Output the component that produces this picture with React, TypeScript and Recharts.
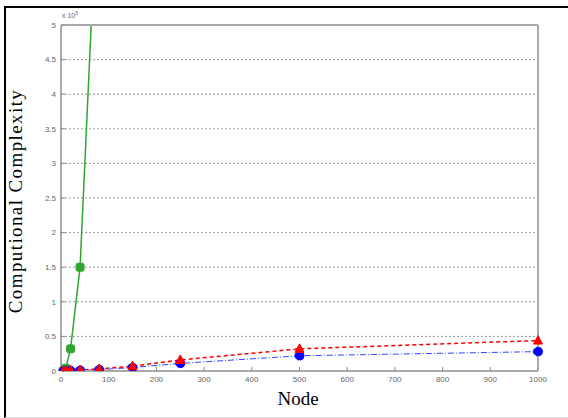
import React from 'react';
import { LineChart, Line, XAxis, YAxis, CartesianGrid, Label } from 'recharts';

// node counts and complexity (in units of 1e5)
const nodes = [5, 10, 20, 40, 80, 150, 250, 500, 1000];
const greenVals = [0.005, 0.04, 0.32, 1.5, 7.5, null, null, null, null];
const redVals = [0.0, 0.005, 0.01, 0.015, 0.03, 0.07, 0.16, 0.32, 0.44];
const blueVals = [0.0, 0.003, 0.005, 0.01, 0.02, 0.05, 0.11, 0.22, 0.28];
const xTicks = [0, 100, 200, 300, 400, 500, 600, 700, 800, 900, 1000];
const yTicks = [0, 0.5, 1, 1.5, 2, 2.5, 3, 3.5, 4, 4.5, 5];

const data = nodes.map((n, i) => ({
  node: n,
  green: greenVals[i],
  red: redVals[i],
  blue: blueVals[i],
}));

const tickStyle = { fontSize: 8, fill: '#666', fontFamily: 'Arial, sans-serif' };

const Triangle = (props: any) => {
  const { cx, cy, key } = props;
  if (cx == null || cy == null) return null;
  return (
    <polygon
      key={key}
      points={`${cx},${cy - 5} ${cx - 4.5},${cy + 3.5} ${cx + 4.5},${cy + 3.5}`}
      fill="#ff0000"
      stroke="#ff0000"
    />
  );
};

const Square = (props: any) => {
  const { cx, cy, key } = props;
  if (cx == null || cy == null) return null;
  return <rect key={key} x={cx - 4} y={cy - 4} width={8} height={8} rx={2} fill="#2fa52f" stroke="#2fa52f" />;
};

const App: React.FC = () => {
  return (
    <div style={{ position: 'absolute', left: 0, top: 0, width: 568, height: 418, background: '#fff' }}>
      <div style={{ position: 'absolute', left: 4, top: 6, width: 564, height: 409, borderTop: '2px solid #000', borderLeft: '2px solid #000', borderBottom: '1px solid #ddd' }} />
      <div style={{ position: 'absolute', left: 0, top: 0 }}>
        <LineChart width={568} height={418} data={data} margin={{ top: 24, right: 29, bottom: 0, left: 0 }}>
          <CartesianGrid xAxisId="b" yAxisId="l" vertical={false} horizontalValues={yTicks.slice(1, -1)} stroke="#999" strokeDasharray="2 2" />
          <XAxis
            dataKey="node"
            type="number"
            domain={[0, 1000]}
            ticks={xTicks}
            xAxisId="b"
            tick={tickStyle}
            tickSize={-4}
            tickMargin={9}
            axisLine={{ stroke: '#aaa', strokeWidth: 2 }}
            tickLine={{ stroke: '#888' }}
            height={47}
          >
            <Label
              content={() => (
                <text x={298} y={405} textAnchor="middle" fontFamily="'Liberation Serif', serif" fontSize={19} fill="#000">
                  Node
                </text>
              )}
            />
          </XAxis>
          <XAxis
            dataKey="node"
            type="number"
            domain={[0, 1000]}
            ticks={xTicks}
            xAxisId="t"
            orientation="top"
            tick={false}
            tickSize={-4}
            axisLine={{ stroke: '#aaa', strokeWidth: 2 }}
            tickLine={{ stroke: '#888' }}
            height={1}
          />
          <YAxis
            yAxisId="l"
            type="number"
            domain={[0, 5]}
            ticks={yTicks}
            allowDataOverflow
            width={61}
            tick={tickStyle}
            tickSize={-4}
            tickMargin={9}
            axisLine={{ stroke: '#aaa', strokeWidth: 2 }}
            tickLine={{ stroke: '#888' }}
          >
            <Label
              content={() => (
                <g>
                  <text x={22} y={201} transform="rotate(-90 22 201)" textAnchor="middle" fontFamily="'Liberation Serif', serif" fontSize={19} letterSpacing={1.4} fill="#000">
                    Computional Complexity
                  </text>
                  <text x={62} y={18} fontFamily="Arial, sans-serif" fontSize={7} fill="#666">
                    x 10<tspan dy={-3} fontSize={5}>5</tspan>
                  </text>
                </g>
              )}
            />
          </YAxis>
          <YAxis
            yAxisId="r"
            orientation="right"
            type="number"
            domain={[0, 5]}
            ticks={yTicks}
            tick={false}
            tickSize={-4}
            width={1}
            axisLine={{ stroke: '#aaa', strokeWidth: 2 }}
            tickLine={{ stroke: '#888' }}
          />
          <Line
            xAxisId="b"
            yAxisId="l"
            dataKey="green"
            type="linear"
            stroke="#2fa52f"
            strokeWidth={1.5}
            dot={<Square />}
            connectNulls={false}
            isAnimationActive={false}
          />
          <Line
            xAxisId="b"
            yAxisId="l"
            dataKey="blue"
            type="linear"
            stroke="#3344ff"
            strokeWidth={1}
            strokeDasharray="6 2 1 2"
            dot={{ r: 4.5, fill: '#0000ff', stroke: '#0000ff' }}
            isAnimationActive={false}
          />
          <Line
            xAxisId="b"
            yAxisId="l"
            dataKey="red"
            type="linear"
            stroke="#ff0000"
            strokeWidth={1.5}
            strokeDasharray="4 3"
            dot={<Triangle />}
            isAnimationActive={false}
          />
        </LineChart>
      </div>
    </div>
  );
};

export default App;
